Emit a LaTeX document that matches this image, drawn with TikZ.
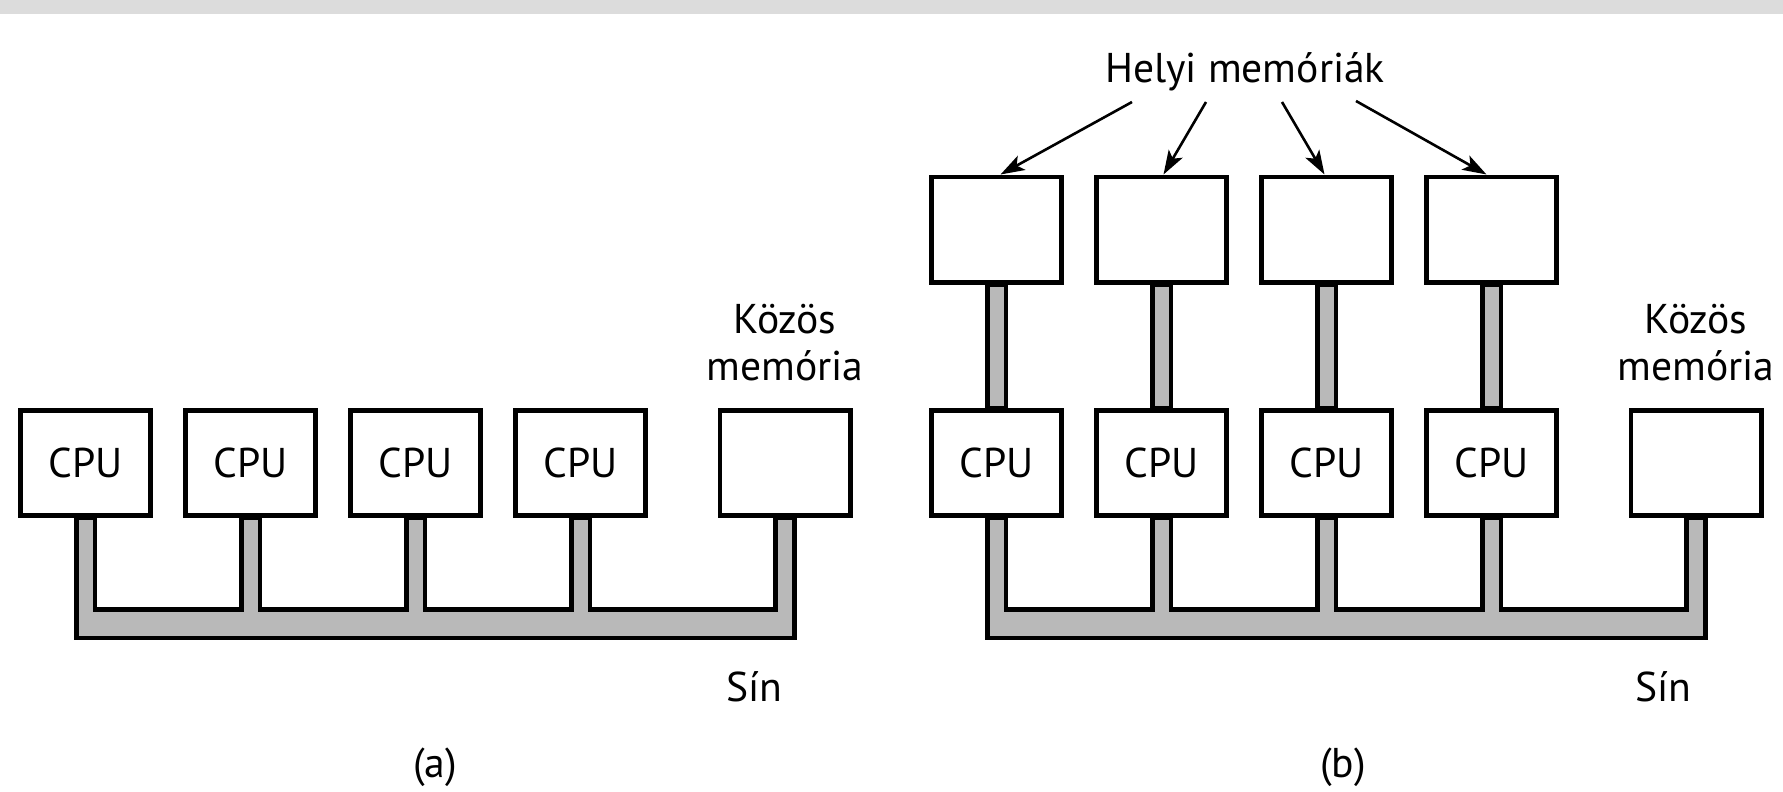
\documentclass[tikz,border=0pt]{standalone}
\usepackage{fontspec}
\setmainfont{PT Sans}
\usetikzlibrary{arrows.meta,calc}
\definecolor{bandgray}{RGB}{220,220,220}
\definecolor{busgray}{RGB}{185,185,185}
\begin{document}
\begin{tikzpicture}[x=0.5pt,y=-0.5pt,
  unit/.style={draw,line width=2.4pt,fill=white,minimum width=65.1pt,
    minimum height=52.6pt,inner sep=0pt,font=\fontsize{20.8pt}{24pt}\selectfont},
  bus/.style={draw,line width=2.3pt,fill=busgray,line join=miter},
  lbl/.style={font=\fontsize{20.8pt}{23.5pt}\selectfont,inner sep=0pt,align=center},
  ptr/.style={line width=1.3pt,-{Stealth[length=12pt,width=8pt,inset=2.8pt]}}]
\useasboundingbox (0,0) rectangle (1783,792);
\fill[bandgray] (0,0) rectangle (1783,14);
\def\bw{9.3}
% levels of the two bus edges
\coordinate (busT) at (0,609.2);
\coordinate (busB) at (0,637.8);

% ---------- (a) shared memory on a bus ----------
\path (85.5,463) node[unit] (a1) {CPU}
      (250.5,463) node[unit] (a2) {CPU}
      (415.5,463) node[unit] (a3) {CPU}
      (580.5,463) node[unit] (a4) {CPU}
      (785,463) node[unit] (am) {};
\filldraw[bus]
  ($(a1.south)+(-\bw,0)$) -- ($(a1.south|-busB)+(-\bw,0)$) --
  ($(am.south|-busB)+(\bw,0)$) -- ($(am.south)+(\bw,0)$) --
  ($(am.south)+(-\bw,0)$) -- ($(am.south|-busT)+(-\bw,0)$) --
  ($(a4.south|-busT)+(\bw,0)$) -- ($(a4.south)+(\bw,0)$) --
  ($(a4.south)+(-\bw,0)$) -- ($(a4.south|-busT)+(-\bw,0)$) --
  ($(a3.south|-busT)+(\bw,0)$) -- ($(a3.south)+(\bw,0)$) --
  ($(a3.south)+(-\bw,0)$) -- ($(a3.south|-busT)+(-\bw,0)$) --
  ($(a2.south|-busT)+(\bw,0)$) -- ($(a2.south)+(\bw,0)$) --
  ($(a2.south)+(-\bw,0)$) -- ($(a2.south|-busT)+(-\bw,0)$) --
  ($(a1.south|-busT)+(\bw,0)$) -- ($(a1.south)+(\bw,0)$) -- cycle;
% boxes again on top of the bus ends
\path (85.5,463) node[unit] {CPU}
      (250.5,463) node[unit] {CPU}
      (415.5,463) node[unit] {CPU}
      (580.5,463) node[unit] {CPU}
      (785,463) node[unit] {};
\node[lbl,anchor=south] (kozA) at (785,381) {Közös\\memória};
\node[lbl,anchor=base] (sinA) at (754,701) {Sín};
\node[lbl,anchor=base] (capA) at (435,777) {(a)};

% ---------- (b) local memories plus shared memory ----------
\path (996.5,463) node[unit] (b1) {CPU}
      (1161.5,463) node[unit] (b2) {CPU}
      (1326.5,463) node[unit] (b3) {CPU}
      (1491.5,463) node[unit] (b4) {CPU}
      (1696,463) node[unit] (bm) {}
      (996.5,229.5) node[unit] (m1) {}
      (1161.5,229.5) node[unit] (m2) {}
      (1326.5,229.5) node[unit] (m3) {}
      (1491.5,229.5) node[unit] (m4) {};
\foreach \i in {1,2,3,4}
  \filldraw[bus] ($(m\i.south)+(-\bw,0)$) rectangle ($(b\i.north)+(\bw,0)$);
\filldraw[bus]
  ($(b1.south)+(-\bw,0)$) -- ($(b1.south|-busB)+(-\bw,0)$) --
  ($(bm.south|-busB)+(\bw,0)$) -- ($(bm.south)+(\bw,0)$) --
  ($(bm.south)+(-\bw,0)$) -- ($(bm.south|-busT)+(-\bw,0)$) --
  ($(b4.south|-busT)+(\bw,0)$) -- ($(b4.south)+(\bw,0)$) --
  ($(b4.south)+(-\bw,0)$) -- ($(b4.south|-busT)+(-\bw,0)$) --
  ($(b3.south|-busT)+(\bw,0)$) -- ($(b3.south)+(\bw,0)$) --
  ($(b3.south)+(-\bw,0)$) -- ($(b3.south|-busT)+(-\bw,0)$) --
  ($(b2.south|-busT)+(\bw,0)$) -- ($(b2.south)+(\bw,0)$) --
  ($(b2.south)+(-\bw,0)$) -- ($(b2.south|-busT)+(-\bw,0)$) --
  ($(b1.south|-busT)+(\bw,0)$) -- ($(b1.south)+(\bw,0)$) -- cycle;
\path (996.5,463) node[unit] {CPU}
      (1161.5,463) node[unit] {CPU}
      (1326.5,463) node[unit] {CPU}
      (1491.5,463) node[unit] {CPU}
      (1696,463) node[unit] {}
      (996.5,229.5) node[unit] {}
      (1161.5,229.5) node[unit] {}
      (1326.5,229.5) node[unit] {}
      (1491.5,229.5) node[unit] {};
\node[lbl,anchor=south] (kozB) at (1696,381) {Közös\\memória};
\node[lbl,anchor=base] (sinB) at (1663,701) {Sín};
\node[lbl,anchor=base] (capB) at (1343,777) {(b)};
\node[lbl,anchor=base] (helyi) at (1245,83) {Helyi memóriák};

% pointers from the label to the local memories
\coordinate (h1) at (1132,102);
\coordinate (h2) at (1206,102);
\coordinate (h3) at (1282,102);
\coordinate (h4) at (1356,101);
\draw[ptr] (h1) -- ($(m1.north)+(4,0)$);
\draw[ptr] (h2) -- ($(m2.north)+(2,0)$);
\draw[ptr] (h3) -- ($(m3.north)+(-2,0)$);
\draw[ptr] (h4) -- ($(m4.north)+(-5,0)$);
\end{tikzpicture}
\end{document}
